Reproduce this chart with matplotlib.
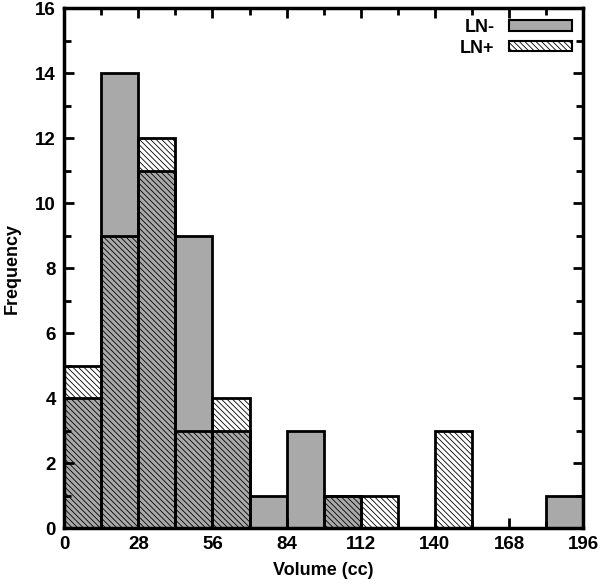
import numpy as np
import matplotlib
matplotlib.use('Agg')
import matplotlib.pyplot as plt
from matplotlib.ticker import MultipleLocator

plt.rcParams['font.family'] = ['Liberation Sans', 'DejaVu Sans']
plt.rcParams['font.weight'] = 'bold'
plt.rcParams['hatch.linewidth'] = 0.6

# bin edges and counts per bin
edges = [0, 14, 28, 42, 56, 70, 84, 98, 112, 126, 140, 154, 168, 182, 196]
ln_neg = [4, 14, 11, 9, 3, 1, 3, 1, 0, 0, 0, 0, 0, 1]
ln_pos = [5, 9, 12, 3, 4, 0, 0, 1, 1, 0, 3, 0, 0, 0]
xticks = [0, 28, 56, 84, 112, 140, 168, 196]

left = np.array(edges[:-1])
width = np.diff(edges)

fig = plt.figure(figsize=(6.0, 5.87), dpi=100)
ax = fig.add_axes([0.107, 0.1005, 0.865, 0.8855])

neg = np.array(ln_neg)
pos = np.array(ln_pos)
ax.bar(left[neg > 0], neg[neg > 0], width=width[neg > 0], align='edge',
       color='#a9a9a9', edgecolor='black', linewidth=2, label='LN-')
ax.bar(left[pos > 0], pos[pos > 0], width=width[pos > 0], align='edge',
       facecolor='none', edgecolor='black', linewidth=2,
       hatch='\\' * 6, label='LN+')

ax.set_xlim(0, 196)
ax.set_ylim(0, 16)
ax.set_xticks(xticks)
ax.xaxis.set_minor_locator(MultipleLocator(14))
ax.yaxis.set_major_locator(MultipleLocator(2))
ax.yaxis.set_minor_locator(MultipleLocator(1))
ax.tick_params(which='both', direction='in', top=True, right=True, width=2,
               labelsize=13.5, pad=6)
ax.tick_params(which='major', length=7)
ax.tick_params(which='minor', length=5)
for s in ax.spines.values():
    s.set_linewidth(2.5)

ax.set_xlabel('Volume (cc)', fontsize=13, fontweight='bold', labelpad=6)
ax.set_ylabel('Frequency', fontsize=13, fontweight='bold', labelpad=10)

leg = ax.legend(loc='upper right', frameon=False, markerfirst=False,
                fontsize=13, handlelength=3.5, handleheight=0.5,
                borderaxespad=0.2, labelspacing=0.2, handletextpad=0.8)
for h in leg.legend_handles:
    h.set_linewidth(1.5)

fig.savefig('out.png', dpi=100)
